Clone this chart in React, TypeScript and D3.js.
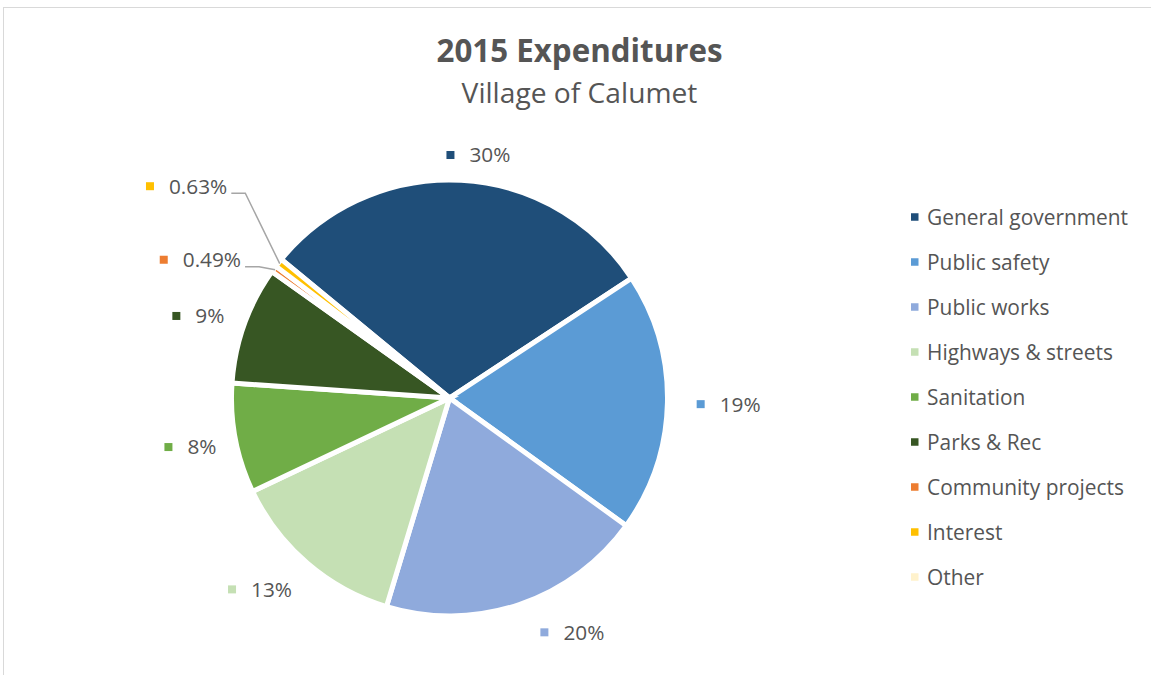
import React from 'react';
import * as d3 from 'd3';

// ---------- data ----------
const categories = [
  'General government',
  'Public safety',
  'Public works',
  'Highways & streets',
  'Sanitation',
  'Parks & Rec',
  'Community projects',
  'Interest',
  'Other',
];
const values = [29.6, 19.1, 19.6, 13.2, 8.1, 8.7, 0.49, 0.63, 0];
const colors = [
  '#1f4e79',
  '#5b9bd5',
  '#8faadc',
  '#c5e0b4',
  '#70ad47',
  '#375623',
  '#ed7d31',
  '#ffc000',
  '#fff2cc',
];
const titleText = '2015 Expenditures';
const subtitleText = 'Village of Calumet';

// ---------- layout ----------
const W = 1151;
const H = 675;
const CX = 449.5;
const CY = 398;
const R = 218;
const START_DEG = -50.5;
const FONT = '"Open Sans", sans-serif';
const TEXT_COLOR = '#555555';
const LABEL_SIZE = 20.8;
const LEGEND_SIZE = 20.9;
const LABEL_R = 238;
const SQ = 8;
const SQ_TEXT_GAP = 23;
// per-label placement tweaks (degrees along the circle, extra px outward)
const labelTweak = [
  { da: 3.7, dr: -8 },
  { da: 0, dr: 9 },
  { da: -9, dr: 2 },
  { da: 4, dr: 1 },
  { da: 0, dr: -2 },
  { da: -1.6, dr: -2 },
  { da: -7.3, dr: 6 },
  { da: 0.5, dr: 61 },
  { da: 0, dr: 0 },
];
const LEGEND_X = 911;
const LEGEND_Y0 = 217;
const LEGEND_STEP = 45;

let ctx: CanvasRenderingContext2D | null = null;
function measure(s: string, size: number, weight = 'normal'): number {
  if (!ctx) ctx = document.createElement('canvas').getContext('2d');
  if (!ctx) return s.length * size * 0.55;
  ctx.font = `${weight} ${size}px ${FONT}`;
  return ctx.measureText(s).width;
}

const fmtLabel = (v: number) =>
  v >= 1 ? `${d3.format('.0f')(v)}%` : `${d3.format('.2f')(v)}%`;

export default function App() {
  const start = (START_DEG * Math.PI) / 180;
  const pie = d3
    .pie<number>()
    .sort(null)
    .value((d) => d)
    .startAngle(start)
    .endAngle(start + 2 * Math.PI);
  const arcs = pie(values);
  const arcGen = d3.arc<d3.PieArcDatum<number>>().innerRadius(0).outerRadius(R);

  const labels = arcs
    .map((a, i) => {
      if (a.value <= 0) return null;
      const text = fmtLabel(a.value);
      const tw = measure(text, LABEL_SIZE);
      const mid = (a.startAngle + a.endAngle) / 2;
      const tweak = labelTweak[i];
      const th = mid + (tweak.da * Math.PI) / 180;
      const hw = (SQ_TEXT_GAP + tw) / 2;
      const hh = 11;
      const ext = hw * Math.abs(Math.sin(th)) + hh * Math.abs(Math.cos(th));
      const dist = LABEL_R + tweak.dr + ext;
      const cx = CX + dist * Math.sin(th);
      const cy = CY - dist * Math.cos(th);
      const left = cx - hw;
      let leader: string | null = null;
      if (a.value < 1) {
        const sx = left + 2 * hw + 4;
        const sy = cy + 7;
        const ex = CX + (R - 1.5) * Math.sin(mid);
        const ey = CY - (R - 1.5) * Math.cos(mid);
        leader = `M${sx},${sy}L${sx + 14},${sy}L${ex},${ey}`;
      }
      return { i, text, left, cy, leader };
    })
    .filter((d) => d !== null) as {
    i: number;
    text: string;
    left: number;
    cy: number;
    leader: string | null;
  }[];

  const titleCx = 579.5;

  return (
    <svg
      width={W}
      height={H}
      style={{ position: 'absolute', left: 0, top: 0, background: '#fff' }}
      fontFamily={FONT}
    >
      <rect x={3.5} y={7.5} width={W + 10} height={H + 10} fill="#fff" stroke="#d9d9d9" strokeWidth={1} />
      <text x={titleCx} y={62} textAnchor="middle" fontSize={31.3} fontWeight="bold" fill={TEXT_COLOR}>
        {titleText}
      </text>
      <text x={titleCx} y={103} textAnchor="middle" fontSize={28.2} fill={TEXT_COLOR}>
        {subtitleText}
      </text>

      <g>
        {arcs.map((a, i) =>
          a.value > 0 ? (
            <path
              key={categories[i]}
              d={arcGen(a) || ''}
              transform={`translate(${CX},${CY})`}
              fill={colors[i]}
              stroke="#fff"
              strokeWidth={5}
              strokeLinejoin="miter"
            />
          ) : null
        )}
      </g>

      <g>
        {labels.map((l) =>
          l.leader ? (
            <path key={'ld' + l.i} d={l.leader} fill="none" stroke="#a6a6a6" strokeWidth={1.5} />
          ) : null
        )}
        {labels.map((l) => (
          <g key={'lb' + l.i}>
            <rect x={l.left} y={l.cy - SQ / 2} width={SQ} height={SQ} fill={colors[l.i]} />
            <text x={l.left + SQ_TEXT_GAP} y={l.cy + 7.4} fontSize={LABEL_SIZE} fill={TEXT_COLOR}>
              {l.text}
            </text>
          </g>
        ))}
      </g>

      <g>
        {categories.map((c, i) => {
          const y = LEGEND_Y0 + i * LEGEND_STEP;
          return (
            <g key={'lg' + c}>
              <rect x={LEGEND_X} y={y - 3.75} width={7.5} height={7.5} fill={colors[i]} />
              <text x={LEGEND_X + 16} y={y + 7.5} fontSize={LEGEND_SIZE} fill={TEXT_COLOR}>
                {c}
              </text>
            </g>
          );
        })}
      </g>
    </svg>
  );
}
